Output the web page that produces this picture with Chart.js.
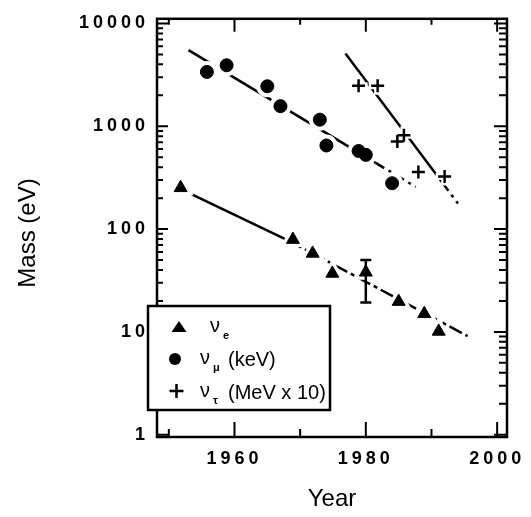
<!DOCTYPE html>
<html>
<head>
<meta charset="utf-8">
<script src="https://cdn.jsdelivr.net/npm/chart.js@4.4.1/dist/chart.umd.min.js"></script>
<style>
  html, body { margin: 0; padding: 0; background: #fff; }
  canvas { display: block; }
</style>
</head>
<body>
<canvas id="massChart" width="531" height="517"></canvas>
<script>
// electron neutrino (eV)
const nueYears = [1951.8, 1968.9, 1971.9, 1974.9, 1980.0, 1985.0, 1988.9, 1991.1];
const nueMass = [252, 79, 58, 37, 38, 19.7, 15.0, 10.1];
// error bar on the 1980 point
const errYear = [1980.0];
const errLow = [19.3];
const errHigh = [50];

// muon neutrino (keV)
const numuYears = [1955.8, 1958.8, 1965.0, 1967.0, 1973.0, 1974.0, 1978.9, 1980.0, 1984.0];
const numuMass = [3380, 3920, 2450, 1570, 1160, 650, 575, 527, 279];

// tau neutrino (MeV x 10)
const nutauYears = [1978.9, 1981.8, 1984.8, 1985.8, 1988.0, 1992.0];
const nutauMass = [2480, 2480, 710, 820, 360, 325];

// trend lines: start, where the dashes begin, end
const nueFitYears = [1953.5, 1968.3, 1995.5];
const nueFitMass = [217, 77, 9.1];
const numuFitYears = [1953.0, 1981.5, 1987.6];
const numuFitMass = [5500, 440, 257];
const nutauFitYears = [1976.9, 1992.3, 1994.5];
const nutauFitMass = [5100, 249, 162];

// axes
const xTickLabels = [1960, 1980, 2000];
const xMinorYears = [1950, 1970, 1990];
const yTickVals = [1, 10, 100, 1000, 10000];

// legend
const legendSubs = ["e", "μ", "τ"];
const legendUnits = ["", "(keV)", "(MeV x 10)"];

const FONT = "'Liberation Sans', Arial, Helvetica, sans-serif";
Chart.defaults.font.family = FONT;
Chart.defaults.color = "#000";

function toPoints(xs, ys) {
  return xs.map((x, i) => ({ x: x, y: ys[i] }));
}

function fitLine(xs, ys, dash) {
  return {
    data: toPoints(xs, ys),
    showLine: true,
    pointRadius: 0,
    borderColor: "#000",
    borderWidth: 2.5,
    borderCapStyle: "butt",
    segment: {
      borderDash: (ctx) => (ctx.p0DataIndex === 0 ? [] : dash),
    },
    order: 4,
  };
}

function halo(xs, ys, style, radius, width) {
  return {
    data: toPoints(xs, ys),
    pointStyle: style,
    pointRadius: radius,
    pointBackgroundColor: "#fff",
    pointBorderColor: "#fff",
    pointBorderWidth: width,
    order: 3,
  };
}

function markers(xs, ys, style, radius, width) {
  return {
    data: toPoints(xs, ys),
    pointStyle: style,
    pointRadius: radius,
    pointBackgroundColor: "#000",
    pointBorderColor: "#000",
    pointBorderWidth: width,
    order: 2,
  };
}

// frame, inward ticks, legend and axis titles
const framePlugin = {
  id: "framePlugin",
  beforeDraw(chart) {
    chart.ctx.letterSpacing = "4px";
  },
  afterDraw(chart) {
    const ctx = chart.ctx;
    const { left, right, top, bottom } = chart.chartArea;
    const xs = chart.scales.x;
    const ys = chart.scales.y;
    ctx.save();
    ctx.letterSpacing = "0px";
    ctx.strokeStyle = "#000";
    ctx.fillStyle = "#000";

    ctx.lineWidth = 2.5;
    ctx.strokeRect(left, top, right - left, bottom - top);

    ctx.lineWidth = 2;
    ctx.beginPath();
    xTickLabels.forEach((yr) => {
      const px = xs.getPixelForValue(yr);
      ctx.moveTo(px, bottom);
      ctx.lineTo(px, bottom - 15);
      ctx.moveTo(px, top);
      ctx.lineTo(px, top + 13);
    });
    xMinorYears.forEach((yr) => {
      const px = xs.getPixelForValue(yr);
      ctx.moveTo(px, bottom);
      ctx.lineTo(px, bottom - 8);
      ctx.moveTo(px, top);
      ctx.lineTo(px, top + 6);
    });
    yTickVals.forEach((v) => {
      for (let m = 1; m < 10; m++) {
        const val = v * m;
        if (val > ys.max) break;
        const py = ys.getPixelForValue(val);
        const len = m === 1 ? 11 : 6;
        ctx.moveTo(left, py);
        ctx.lineTo(left + len, py);
        ctx.moveTo(right, py);
        ctx.lineTo(right - len - 2, py);
      }
    });
    ctx.stroke();

    // legend box
    ctx.fillStyle = "#fff";
    ctx.fillRect(148, 306, 182, 104);
    ctx.lineWidth = 2.5;
    ctx.strokeRect(148, 306, 182, 104);
    ctx.fillStyle = "#000";

    // symbols
    ctx.beginPath();
    ctx.moveTo(179, 321);
    ctx.lineTo(186.5, 332);
    ctx.lineTo(171.5, 332);
    ctx.closePath();
    ctx.fill();
    ctx.beginPath();
    ctx.arc(175, 359, 6, 0, Math.PI * 2);
    ctx.fill();
    ctx.lineWidth = 2.5;
    ctx.beginPath();
    ctx.moveTo(169.5, 391);
    ctx.lineTo(183.5, 391);
    ctx.moveTo(176.5, 384);
    ctx.lineTo(176.5, 398);
    ctx.stroke();

    // labels
    const rowBase = [331.5, 364, 397];
    const nuX = [210, 200, 200];
    ctx.textAlign = "left";
    ctx.textBaseline = "alphabetic";
    rowBase.forEach((b, i) => {
      ctx.font = "20px " + FONT;
      ctx.fillText("ν", nuX[i], b);
      if (legendUnits[i]) ctx.fillText(legendUnits[i], 228, b + 2);
      ctx.font = "bold 11px " + FONT;
      ctx.fillText(legendSubs[i], nuX[i] + 13, b + 7);
    });

    // axis titles
    ctx.font = "24px " + FONT;
    ctx.textAlign = "center";
    ctx.textBaseline = "middle";
    ctx.fillText("Year", (left + right) / 2, 499);
    ctx.translate(28, 233);
    ctx.rotate(-Math.PI / 2);
    ctx.fillText("Mass (eV)", 0, 0);
    ctx.restore();
  },
};

const ctx = document.getElementById("massChart").getContext("2d");
const massChart = new Chart(ctx, {
  type: "scatter",
  data: {
    datasets: [
      fitLine(nueFitYears, nueFitMass, [14, 4, 4, 4]),
      fitLine(numuFitYears, numuFitMass, [10, 5, 3, 5]),
      fitLine(nutauFitYears, nutauFitMass, [3, 5]),
      halo(nueYears, nueMass, "triangle", 11, 4),
      halo(numuYears, numuMass, "circle", 10, 2),
      halo(nutauYears, nutauMass, "cross", 9, 7),
      markers(nueYears, nueMass, "triangle", 7.5, 1),
      markers(numuYears, numuMass, "circle", 6.5, 1),
      markers(nutauYears, nutauMass, "cross", 6.5, 2.5),
      {
        data: [
          { x: errYear[0], y: errLow[0] },
          { x: errYear[0], y: errHigh[0] },
        ],
        showLine: true,
        borderColor: "#000",
        borderWidth: 2.5,
        pointStyle: "line",
        pointRadius: 5.5,
        pointBorderColor: "#000",
        pointBorderWidth: 2.5,
        order: 1,
      },
    ],
  },
  options: {
    responsive: false,
    animation: false,
    events: [],
    layout: { padding: { left: 0, right: 24, top: 14, bottom: 0 } },
    plugins: {
      legend: { display: false },
      tooltip: { enabled: false },
    },
    scales: {
      x: {
        type: "linear",
        min: 1948.2,
        max: 2001.5,
        grid: { display: false, drawTicks: false },
        border: { display: false },
        afterBuildTicks: (s) => {
          s.ticks = xTickLabels.map((v) => ({ value: v }));
        },
        afterFit: (s) => {
          s.height = 80;
        },
        ticks: {
          padding: 11,
          font: { size: 18, weight: "bold" },
          callback: (v) => String(v),
        },
      },
      y: {
        type: "logarithmic",
        min: 0.95,
        max: 11100,
        grid: { display: false, drawTicks: false },
        border: { display: false },
        afterBuildTicks: (s) => {
          s.ticks = yTickVals.map((v) => ({ value: v }));
        },
        afterFit: (s) => {
          s.width = 157;
        },
        ticks: {
          padding: 8,
          font: { size: 18, weight: "bold" },
          callback: (v) => String(v),
        },
      },
    },
  },
  plugins: [framePlugin],
});
</script>
</body>
</html>
